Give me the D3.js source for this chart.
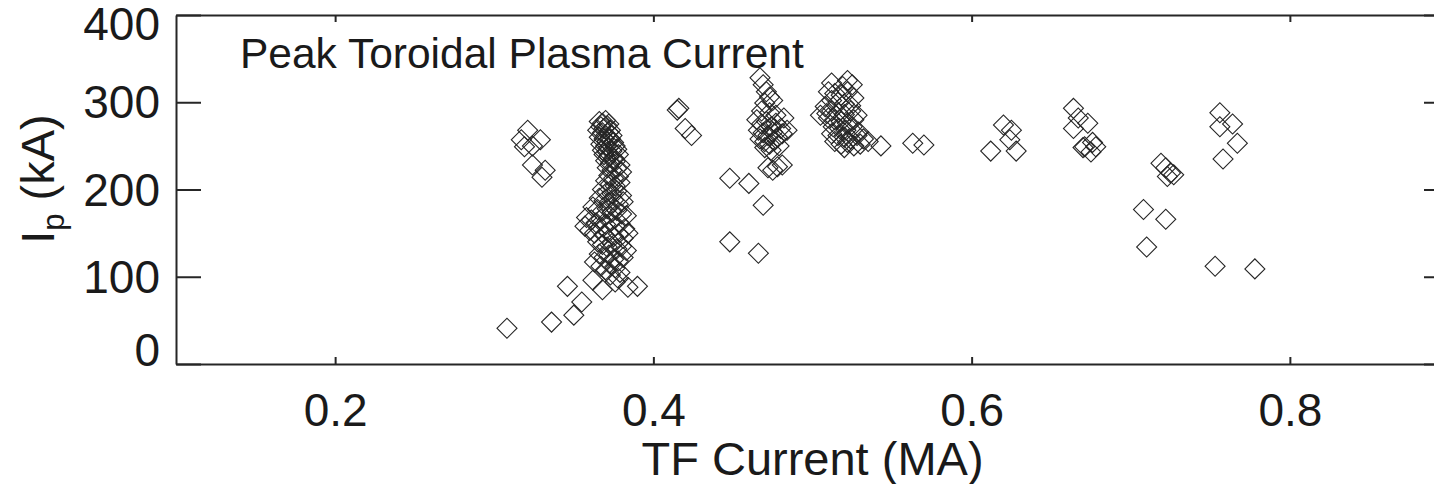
<!DOCTYPE html>
<html>
<head>
<meta charset="utf-8">
<script src="https://cdn.jsdelivr.net/npm/d3@7"></script>
<style>
    body { margin: 0; background: #fff; }
    svg { display: block; font-family: "Liberation Sans", Arial, sans-serif; }
    .axis path, .axis line { stroke: #262626; stroke-width: 2; }
    .axis text { fill: #1a1a1a; font-size: 46px; font-family: "Liberation Sans", Arial, sans-serif; }
    .shot { fill: none; stroke: #262626; stroke-width: 1.1; }
</style>
</head>
<body>
<div class="container"></div>
<script>
// TF current (MA), peak plasma current (kA), grouped by cluster
var lowTf = [
    [0.317, 257], [0.321, 268], [0.324, 250], [0.329, 257], [0.319, 249],
    [0.324, 228], [0.332, 222], [0.330, 214]
];

var rampUp = [
    [0.308, 41], [0.336, 48], [0.350, 56], [0.355, 71], [0.346, 89],
    [0.368, 85], [0.384, 88], [0.390, 89], [0.373, 102], [0.362, 96],
    [0.376, 94], [0.363, 117], [0.378, 98]
];

var mainColumn = [
    [0.366, 278], [0.368, 276], [0.370, 279], [0.372, 275], [0.367, 272], [0.369, 270],
    [0.371, 273], [0.373, 268], [0.365, 268], [0.368, 265], [0.370, 262], [0.372, 266],
    [0.374, 262], [0.366, 260], [0.369, 258], [0.371, 255], [0.373, 258], [0.375, 254],
    [0.367, 252], [0.370, 250], [0.372, 248], [0.376, 250], [0.368, 245], [0.371, 243],
    [0.374, 244], [0.377, 246], [0.369, 240], [0.372, 238], [0.375, 236], [0.378, 240],
    [0.370, 233], [0.373, 230], [0.376, 232], [0.379, 228], [0.371, 225], [0.374, 222],
    [0.377, 224], [0.380, 220], [0.372, 216], [0.375, 213], [0.378, 215], [0.370, 210],
    [0.373, 206], [0.376, 204], [0.379, 208], [0.368, 200], [0.371, 197], [0.374, 195],
    [0.377, 198], [0.380, 193], [0.366, 190], [0.369, 187], [0.372, 185], [0.375, 188],
    [0.378, 183], [0.381, 186], [0.362, 180], [0.365, 177], [0.368, 175], [0.371, 178],
    [0.374, 174], [0.377, 176], [0.380, 172], [0.383, 170], [0.358, 168], [0.361, 165],
    [0.364, 162], [0.367, 166], [0.370, 160], [0.373, 163], [0.376, 158], [0.379, 161],
    [0.382, 155], [0.357, 158], [0.360, 153], [0.363, 150], [0.366, 155], [0.369, 148],
    [0.372, 151], [0.375, 146], [0.378, 149], [0.381, 144], [0.384, 150], [0.365, 140],
    [0.368, 137], [0.371, 134], [0.374, 138], [0.377, 132], [0.380, 135], [0.383, 130],
    [0.366, 126], [0.369, 122], [0.372, 125], [0.375, 120], [0.378, 118], [0.381, 122],
    [0.367, 112], [0.370, 108], [0.373, 114], [0.376, 110], [0.379, 105]
];

var midTf = [
    [0.415, 291], [0.416, 293], [0.420, 270], [0.424, 262],
    [0.448, 213], [0.460, 207], [0.469, 182], [0.448, 140], [0.466, 127],
    [0.472, 225], [0.475, 222], [0.478, 226], [0.481, 228]
];

var cluster047 = [
    [0.467, 328], [0.469, 320], [0.471, 312], [0.473, 306], [0.475, 302], [0.470, 299],
    [0.465, 280], [0.468, 275], [0.471, 278], [0.474, 272], [0.477, 276], [0.480, 270],
    [0.466, 268], [0.469, 265], [0.472, 262], [0.475, 266], [0.478, 260], [0.481, 264],
    [0.484, 268], [0.467, 258], [0.470, 255], [0.473, 252], [0.476, 256], [0.479, 250],
    [0.470, 248], [0.474, 245], [0.477, 285], [0.473, 288], [0.482, 282], [0.468, 290]
];

var cluster052 = [
    [0.512, 322], [0.522, 325], [0.519, 318], [0.525, 320],
    [0.510, 312], [0.514, 310], [0.518, 308], [0.522, 312], [0.526, 305], [0.512, 302],
    [0.516, 300], [0.520, 298], [0.524, 296], [0.508, 295], [0.512, 290], [0.516, 288],
    [0.520, 286], [0.524, 290], [0.528, 285], [0.510, 282], [0.514, 280], [0.518, 278],
    [0.522, 276], [0.526, 280], [0.509, 287], [0.513, 272], [0.517, 270], [0.521, 268],
    [0.525, 272], [0.529, 266], [0.512, 264], [0.516, 262], [0.520, 260], [0.524, 258],
    [0.528, 262], [0.532, 258], [0.514, 255], [0.518, 252], [0.522, 254], [0.526, 250],
    [0.530, 252], [0.520, 248], [0.535, 255], [0.505, 285]
];

var highTf = [
    [0.543, 250], [0.563, 253], [0.570, 251],
    [0.620, 274], [0.625, 268], [0.612, 244], [0.628, 244], [0.624, 257],
    [0.664, 293], [0.667, 282], [0.664, 270], [0.673, 276], [0.671, 249],
    [0.676, 254], [0.678, 249], [0.675, 243], [0.670, 248],
    [0.719, 230], [0.722, 225], [0.725, 219], [0.727, 217], [0.723, 215],
    [0.708, 177], [0.722, 166], [0.710, 134], [0.753, 112], [0.778, 109],
    [0.756, 288], [0.756, 272], [0.764, 275], [0.767, 253], [0.758, 235]
];

var xTicks = [0.2, 0.4, 0.6, 0.8];
var yTicks = [0, 100, 200, 300, 400];

var shots = [].concat(lowTf, rampUp, mainColumn, midTf, cluster047, cluster052, highTf);

function drawChart() {
    var width = 1434, height = 484;
    var plot = { left: 176, right: 1449, top: 15, bottom: 364 };

    var svg = d3.select(".container").append("svg")
        .attr("width", width)
        .attr("height", height);

    var x = d3.scaleLinear().domain([0.1, 0.9]).range([plot.left, plot.right]);
    var y = d3.scaleLinear().domain([0, 400]).range([plot.bottom, plot.top]);

    // frame with inward ticks (IDL style)
    svg.append("g")
        .attr("class", "axis")
        .attr("transform", "translate(0," + plot.bottom + ")")
        .call(d3.axisBottom(x).tickValues(xTicks).tickSizeInner(-7).tickSizeOuter(0)
            .tickPadding(29).tickFormat(d3.format(".1f")));

    svg.append("g")
        .attr("class", "axis")
        .attr("transform", "translate(0," + plot.top + ")")
        .call(d3.axisTop(x).tickValues(xTicks).tickSizeInner(-7).tickSizeOuter(0).tickFormat(""));

    var yAxis = svg.append("g")
        .attr("class", "axis")
        .attr("transform", "translate(" + plot.left + ",0)")
        .call(d3.axisLeft(y).tickValues(yTicks).tickSizeInner(-25).tickSizeOuter(0).tickPadding(16));

    // end labels sit inside the frame, as in the original
    yAxis.selectAll(".tick text")
        .attr("y", function (d) { return d === 400 ? 10 : (d === 0 ? -13 : 1); });

    svg.append("g")
        .attr("class", "axis")
        .attr("transform", "translate(" + plot.right + ",0)")
        .call(d3.axisRight(y).tickValues(yTicks).tickSizeInner(-25).tickSizeOuter(0).tickFormat(""));

    // diamonds
    var diamond = d3.symbol().type(d3.symbolSquare).size(200);
    svg.append("g")
        .selectAll("path")
        .data(shots)
        .enter()
        .append("path")
        .attr("class", "shot")
        .attr("d", diamond)
        .attr("transform", function (d) {
            return "translate(" + x(d[0]) + "," + y(d[1]) + ") rotate(45)";
        });

    // labels
    svg.append("text")
        .attr("x", 240)
        .attr("y", 68)
        .attr("fill", "#1a1a1a")
        .style("font-size", "42.5px")
        .text("Peak Toroidal Plasma Current");

    svg.append("text")
        .attr("x", (plot.left + plot.right) / 2)
        .attr("y", 475)
        .attr("text-anchor", "middle")
        .attr("fill", "#1a1a1a")
        .style("font-size", "47px")
        .text("TF Current (MA)");

    var ytitle = svg.append("text")
        .attr("transform", "translate(54,179) rotate(-90)")
        .attr("text-anchor", "middle")
        .attr("fill", "#1a1a1a")
        .style("font-size", "47px");
    ytitle.append("tspan").text("I");
    ytitle.append("tspan").attr("dy", 10).style("font-size", "31px").text("p");
    ytitle.append("tspan").attr("dy", -10).text(" (kA)");
}

drawChart();
</script>
</body>
</html>
